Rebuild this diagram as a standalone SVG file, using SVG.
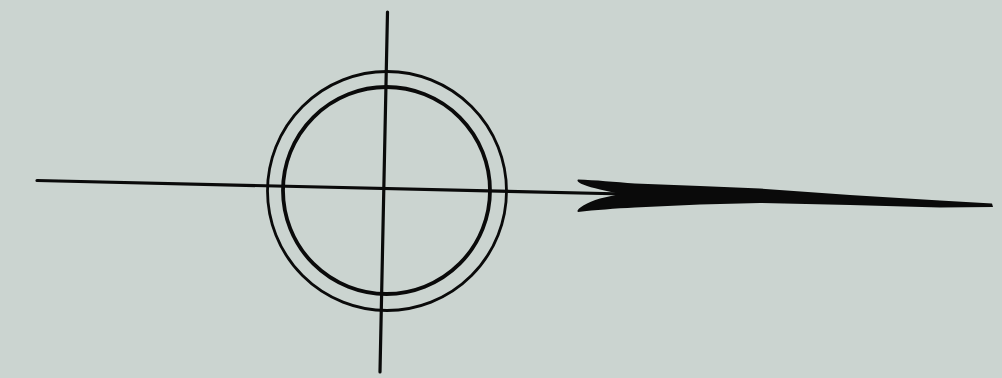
<svg xmlns="http://www.w3.org/2000/svg" width="1002" height="378" viewBox="0 0 1002 378">
<style>
.ln{stroke:#0a0a0a;fill:none;stroke-linecap:round}
</style>
<rect width="1002" height="378" fill="#cbd4d0"/>
<circle class="ln" cx="387" cy="191" r="119.5" stroke-width="2.8"/>
<circle class="ln" cx="386.5" cy="190.5" r="103.5" stroke-width="3.8"/>
<line class="ln" x1="387.5" y1="12" x2="380" y2="372" stroke-width="3.2"/>
<line class="ln" x1="37" y1="180.5" x2="625" y2="194" stroke-width="3.2"/>
<path fill="#0a0a0a" d="M578,179.5 C595,180 615,182 635,183.5 L700,186 L760,188.5 L850,195 L940,200.5 L992,203.5 L993,207 L940,207.5 L850,205 L760,203 L700,204.5 L635,207.5 C615,208.5 595,210 578,212 C575,210 585,203 600,198.5 L620,194 L600,189.5 C585,186 575,182 578,179.5 Z"/>
</svg>
